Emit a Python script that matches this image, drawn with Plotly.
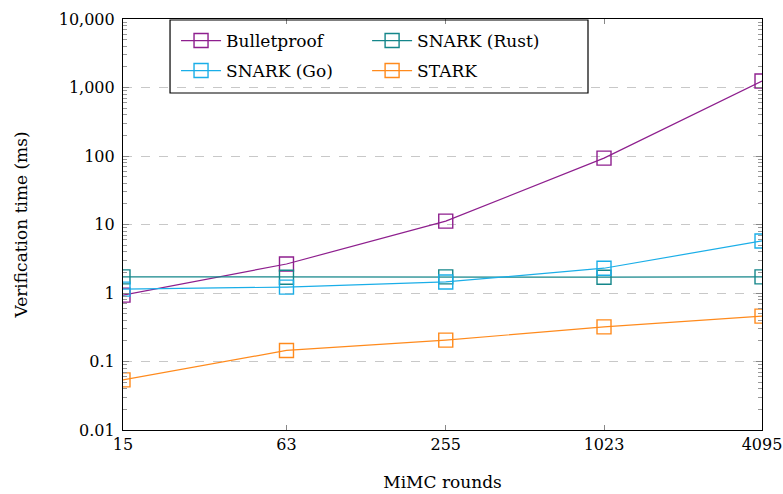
import plotly.graph_objects as go

rounds = [15, 63, 255, 1023, 4095]
bulletproof = [0.93, 2.65, 11.2, 93, 1245]
snark_rust = [1.72, 1.70, 1.72, 1.70, 1.72]
snark_go = [1.14, 1.22, 1.45, 2.3, 5.75]
stark = [0.054, 0.145, 0.205, 0.32, 0.46]

y_tickvals = [0.01, 0.1, 1, 10, 100, 1000, 10000]
y_ticktext = ["0.01", "0.1", "1", "10", "100", "1,000", "10,000"]
x_ticktext = ["15", "63", "255", "1023", "4095"]

series = [
    ("Bulletproof", bulletproof, "#8E1F8E", "legend"),
    ("SNARK (Rust)", snark_rust, "#14868A", "legend2"),
    ("SNARK (Go)", snark_go, "#1AAEE8", "legend3"),
    ("STARK", stark, "#FF8A1C", "legend4"),
]

FONT = "DejaVu Serif"
fig = go.Figure()
for name, vals, col, lg in series:
    fig.add_trace(go.Scatter(
        x=rounds, y=vals, name=name, mode="lines+markers",
        line=dict(color=col, width=1.2),
        marker=dict(symbol="square-open", size=14, color=col, line=dict(width=1.4, color=col)),
        legend=lg,
    ))

def lg(x, y):
    return dict(x=x, y=y, xanchor="left", yanchor="middle", bgcolor="rgba(0,0,0,0)",
                font=dict(family=FONT, size=17), itemwidth=40)

fig.update_layout(
    width=783, height=494,
    margin=dict(l=123, r=21, t=19, b=64, autoexpand=False),
    plot_bgcolor="white", paper_bgcolor="white",
    font=dict(family=FONT, size=16, color="black"),
    showlegend=True,
    legend=lg(0.083, 0.9465),
    legend2=lg(0.382, 0.9465),
    legend3=lg(0.083, 0.8735),
    legend4=lg(0.382, 0.8735),
    shapes=[dict(type="rect", xref="paper", yref="paper", x0=0.0736, x1=0.7277, y0=0.82, y1=0.9976,
                 line=dict(color="black", width=1.2), fillcolor="rgba(0,0,0,0)")],
)

fig.update_xaxes(
    type="log", range=[1.1761, 3.6122], automargin=False,
    tickvals=rounds, ticktext=x_ticktext,
    ticks="inside", ticklen=5, tickcolor="#888888",
    showline=True, linecolor="black", linewidth=1.2, mirror="ticks",
    showgrid=False, zeroline=False,
    title=dict(text="MiMC rounds", font=dict(family=FONT, size=17), standoff=22),
    tickfont=dict(family=FONT, size=16),
)
fig.update_yaxes(
    type="log", range=[-2, 4], automargin=False,
    tickvals=y_tickvals, ticktext=y_ticktext,
    ticks="inside", ticklen=6, tickcolor="#888888", ticklabelstandoff=4,
    minor=dict(ticks="inside", ticklen=4, dtick="D1", tickcolor="#999999", showgrid=False),
    showline=True, linecolor="black", linewidth=1.2, mirror="ticks",
    showgrid=True, gridcolor="#C8C8C8", griddash="dash", gridwidth=1,
    zeroline=False,
    title=dict(text="Verification time (ms)", font=dict(family=FONT, size=17), standoff=26),
    tickfont=dict(family=FONT, size=16),
)

fig.write_html("out.html", config={"displayModeBar": False},
               post_script="document.body.style.margin='0px';document.body.style.padding='0px';")
